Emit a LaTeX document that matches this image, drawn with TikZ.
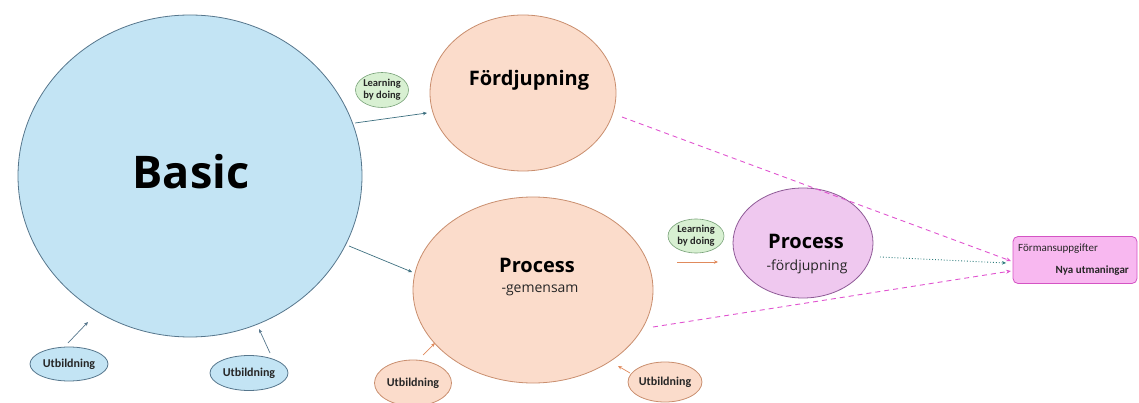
\documentclass[tikz,border=0pt]{standalone}
\usepackage{fontspec}
\setmainfont{Open Sans}
\newfontfamily\labelfont{Carlito}
\usetikzlibrary{shapes.geometric,arrows.meta}

\definecolor{bluefill}{HTML}{C3E4F4}
\definecolor{blueline}{HTML}{56768C}
\definecolor{orangefill}{HTML}{FBDCCB}
\definecolor{orangeline}{HTML}{C98E6E}
\definecolor{purplefill}{HTML}{EFC8EF}
\definecolor{purpleline}{HTML}{8E5A96}
\definecolor{greenfill}{HTML}{D8F0D2}
\definecolor{greenline}{HTML}{78A278}
\definecolor{pinkfill}{HTML}{F8B8F0}
\definecolor{pinkline}{HTML}{D454C4}
\definecolor{tealline}{HTML}{3E7080}
\definecolor{arroworange}{HTML}{E08A5C}
\definecolor{dashpink}{HTML}{E054D0}
\definecolor{dotteal}{HTML}{2E7C7C}

\tikzset{
  bubble/.style={ellipse, inner sep=0pt, line width=0.8pt},
  bluebubble/.style={bubble, fill=bluefill, draw=blueline},
  orangebubble/.style={bubble, fill=orangefill, draw=orangeline},
  purplebubble/.style={bubble, fill=purplefill, draw=purpleline},
  greenbubble/.style={bubble, fill=greenfill, draw=greenline, line width=0.6pt},
  tag/.style={font=\labelfont\bfseries\fontsize{12}{13}\selectfont, text=black!85},
  lbd/.style={font=\labelfont\bfseries\fontsize{10.5}{12}\selectfont, align=center, text=black!85},
  title/.style={font=\bfseries\fontsize{20}{22}\selectfont, inner sep=0pt},
  subtitle/.style={font=\fontsize{14}{16}\selectfont, inner sep=0pt, text=black!85},
  feed/.style={-{Stealth[length=4pt,width=3.5pt]}, line width=0.7pt},
  dashlink/.style={dashpink, dash pattern=on 5pt off 4pt, line width=0.9pt,
    -{Stealth[length=5pt,width=4pt]}},
}

\begin{document}
\begin{tikzpicture}[x=1pt, y=-1pt]
\useasboundingbox (0,0) rectangle (1139,403);

% main bubbles
\node[bluebubble, minimum width=344pt, minimum height=322pt] (basic) at (190,176) {};
\node[font=\bfseries\fontsize{45}{48}\selectfont, inner sep=0pt] (basictxt) at (191,172) {Basic};

\node[orangebubble, minimum width=186pt, minimum height=156pt] (ford) at (523,93) {};
\node[title] (fordtxt) at (529,80) {Fördjupning};

\node[orangebubble, minimum width=240pt, minimum height=186pt] (proc) at (533,290) {};
\node[title] (proctxt) at (537,265) {Process};
\node[subtitle] (procsub) at (540,290) {-gemensam};

\node[purplebubble, minimum width=140pt, minimum height=110pt] (procf) at (803,243) {};
\node[title] (procftxt) at (806,241) {Process};
\node[subtitle] (procfsub) at (807,267) {-fördjupning};

\node[rounded corners=5pt, fill=pinkfill, draw=pinkline, line width=0.8pt,
  minimum width=124pt, minimum height=47pt] (roles) at (1075,260) {};
\node[font=\labelfont\fontsize{11}{12}\selectfont, anchor=west, inner sep=0pt, text=black!85] (rolesa) at (1018,249) {Förmansuppgifter};
\node[font=\labelfont\bfseries\fontsize{11}{12}\selectfont, anchor=east, inner sep=0pt, text=black!85] (rolesb) at (1129,271) {Nya utmaningar};

% learning by doing
\node[greenbubble, minimum width=53pt, minimum height=35pt, lbd] (lbd1) at (382,90) {Learning\\by doing};
\node[greenbubble, minimum width=56pt, minimum height=34pt, lbd] (lbd2) at (696,236) {Learning\\by doing};

% utbildning
\node[bluebubble, minimum width=78pt, minimum height=34pt, tag] (utb1) at (69,364) {Utbildning};
\node[bluebubble, minimum width=78pt, minimum height=35pt, tag] (utb2) at (249,373) {Utbildning};
\node[orangebubble, minimum width=77pt, minimum height=46pt, tag] (utb3) at (413,383) {Utbildning};
\node[orangebubble, minimum width=66pt, minimum height=40pt, tag] (utb4) at (665,382) {Utbildning};

% connector end points
\coordinate (b1s) at (355,123);  \coordinate (b1e) at (427,113);
\coordinate (b2s) at (349,246);  \coordinate (b2e) at (412,272);
\coordinate (u1s) at (68,343);   \coordinate (u1e) at (88,322);
\coordinate (u2s) at (270,353);  \coordinate (u2e) at (259,329);
\coordinate (u3s) at (423,355);  \coordinate (u3e) at (435,343);
\coordinate (u4s) at (630,373);  \coordinate (u4e) at (618,366);
\coordinate (ps) at (677,262);   \coordinate (pe) at (718,262);
\coordinate (ds) at (880,257);   \coordinate (de) at (1006,263);
\coordinate (f1s) at (622,117);  \coordinate (f1e) at (1011,261);
\coordinate (f2s) at (653,327);  \coordinate (f2e) at (1011,271);

% connectors
\draw[feed, tealline] (b1s) -- (b1e);
\draw[feed, tealline] (b2s) -- (b2e);
\draw[feed, blueline] (u1s) -- (u1e);
\draw[feed, blueline] (u2s) -- (u2e);
\draw[feed, arroworange] (u3s) -- (u3e);
\draw[feed, arroworange] (u4s) -- (u4e);
\draw[feed, arroworange] (ps) -- (pe);
\draw[dotteal, dotted, line width=0.9pt, -{Stealth[length=4pt,width=3.5pt]}] (ds) -- (de);
\draw[dashlink] (f1s) -- (f1e);
\draw[dashlink] (f2s) -- (f2e);
\end{tikzpicture}
\end{document}
